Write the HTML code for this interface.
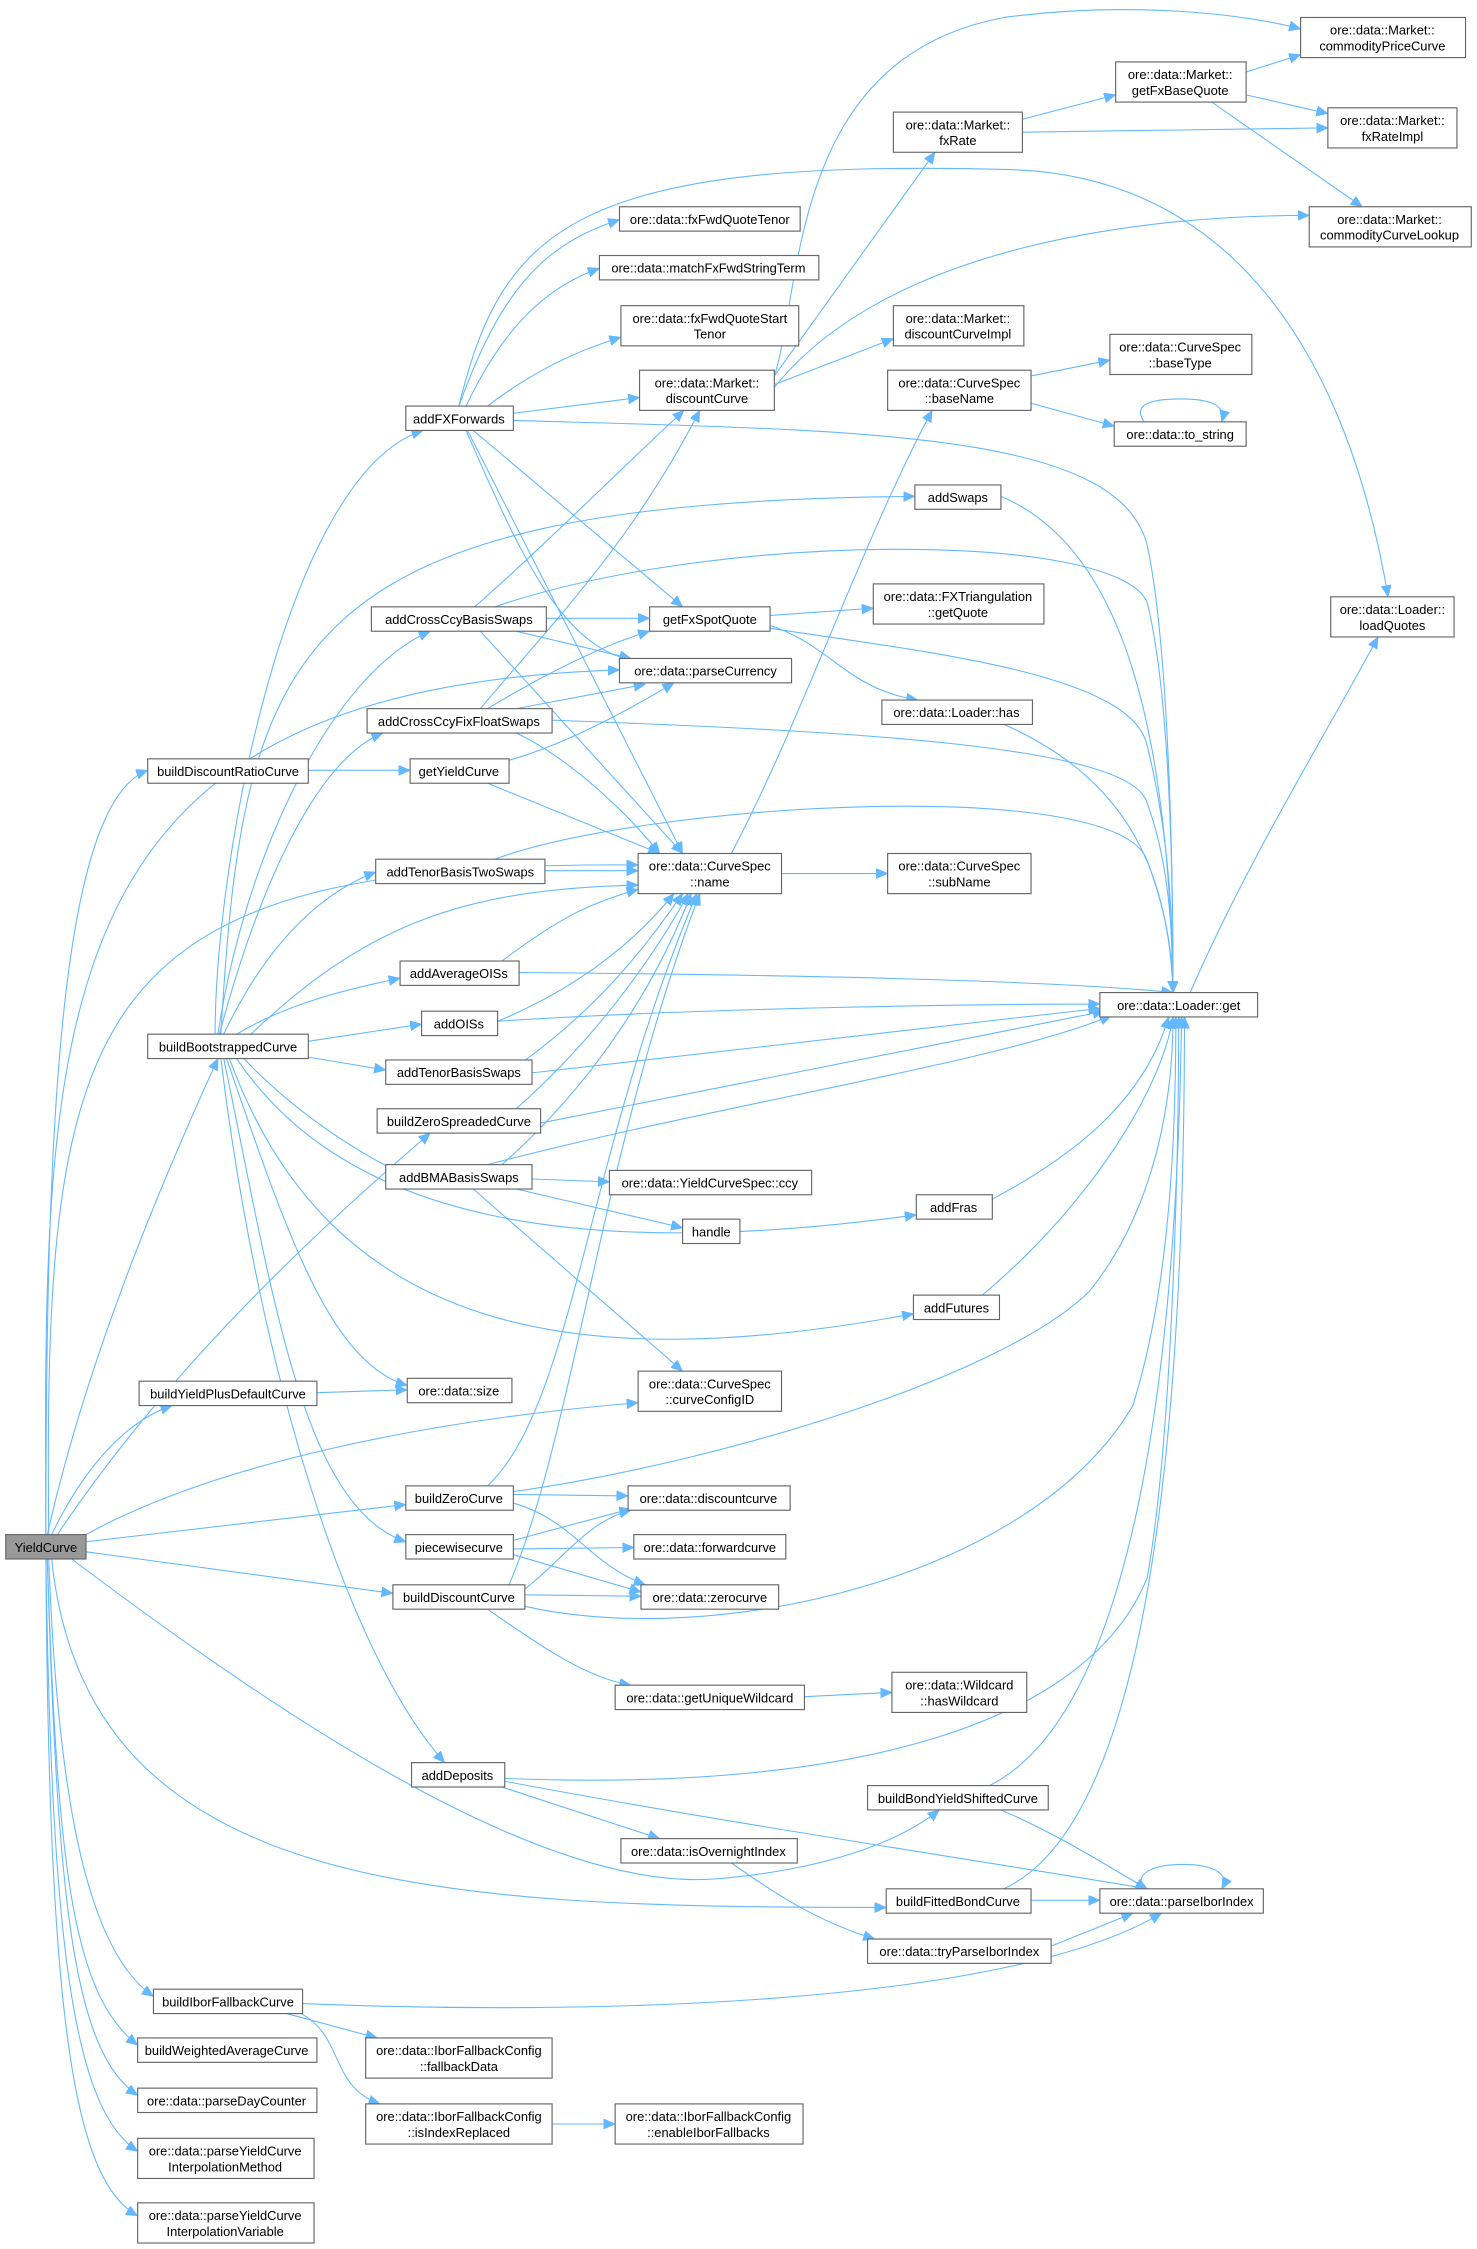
<!DOCTYPE html>
<html><head><meta charset="utf-8"><style>
html,body{margin:0;padding:0;background:#fff;}
svg{display:block;}
text{font-family:"Liberation Sans",sans-serif;font-size:9px;fill:#000;text-anchor:middle;}
.n rect{fill:#fff;stroke:#666;stroke-width:0.8;}
.e{fill:none;stroke:#63b8ff;stroke-width:0.75;marker-end:url(#a);}
</style></head><body>
<svg width="1477" height="2249" viewBox="0 0 1030 1568" xmlns="http://www.w3.org/2000/svg">
<defs><marker id="a" markerUnits="userSpaceOnUse" markerWidth="9" markerHeight="8" refX="8" refY="3.5" orient="auto"><path d="M0,0 L8,3.5 L0,7 z" fill="#63b8ff" stroke="#63b8ff" stroke-width="0.5"/></marker></defs>

<!-- edges from YieldCurve -->
<path class="e" d="M32,1070 C32,800 40,560 103,537"/>
<path class="e" d="M33,1070 C60,950 110,830 152,738"/>
<path class="e" d="M36,1070 C60,1020 90,990 120,980"/>
<path class="e" d="M40,1070 C120,950 230,850 300,790"/>
<path class="e" d="M32,1070 C30,700 30,480 432,467"/>
<path class="e" d="M34,1070 C30,700 60,600 445,603"/>
<path class="e" d="M60,1070 C150,1020 300,990 445,978"/>
<path class="e" d="M60,1075 L283,1049"/>
<path class="e" d="M60,1082 L274,1111"/>
<path class="e" d="M50,1087 C200,1200 380,1320 500,1310 C560,1305 620,1290 655,1262"/>
<path class="e" d="M36,1087 C60,1320 300,1330 618,1330"/>
<path class="e" d="M34,1087 C40,1250 60,1360 107,1392"/>
<path class="e" d="M33,1087 C40,1300 50,1390 96,1426"/>
<path class="e" d="M33,1087 C40,1320 50,1430 96,1461"/>
<path class="e" d="M32,1087 C36,1350 50,1470 96,1500"/>
<path class="e" d="M32,1087 C34,1400 50,1520 96,1545"/>

<!-- buildBootstrappedCurve -->
<path class="e" d="M150,721 C150,600 200,330 295,300"/>
<path class="e" d="M152,721 C170,600 230,470 300,440"/>
<path class="e" d="M153,721 C180,620 220,530 267,511"/>
<path class="e" d="M154,721 C170,450 200,350 638,346"/>
<path class="e" d="M156,721 C190,650 230,620 262,608"/>
<path class="e" d="M165,721 C200,700 240,690 279,682"/>
<path class="e" d="M215,726 L294,714"/>
<path class="e" d="M215,737 L269,746"/>
<path class="e" d="M170,738 C210,780 260,810 285,820"/>
<path class="e" d="M165,738 C240,850 400,880 639,847"/>
<path class="e" d="M160,738 C230,930 400,960 637,916"/>
<path class="e" d="M158,738 C200,860 230,950 284,966"/>
<path class="e" d="M156,738 C190,900 210,1050 283,1075"/>
<path class="e" d="M154,738 C180,950 240,1150 310,1229"/>
<path class="e" d="M175,721 C260,640 330,620 445,617"/>

<!-- addFXForwards -->
<path class="e" d="M320,283 C350,200 380,170 432,153"/>
<path class="e" d="M325,283 C350,230 380,200 418,187"/>
<path class="e" d="M340,283 C370,260 400,245 433,235"/>
<path class="e" d="M358,288 L446,277"/>
<path class="e" d="M330,300 L476,423"/>
<path class="e" d="M325,300 C360,380 390,450 440,460"/>
<path class="e" d="M326,300 L476,595"/>
<path class="e" d="M358,293 C600,300 780,300 800,380 C815,450 818,600 818,692"/>
<path class="e" d="M320,283 C350,160 400,110 700,118 C860,120 940,250 968,416"/>

<!-- discountCurve -->
<path class="e" d="M540,262 C560,200 550,40 700,12 C790,0 870,10 907,20"/>
<path class="e" d="M540,262 L652,106"/>
<path class="e" d="M540,268 L623,236"/>
<path class="e" d="M540,270 C620,170 800,150 913,150"/>
<path class="e" d="M713,83 L778,66"/>
<path class="e" d="M713,92 L926,89"/>
<path class="e" d="M869,50 L907,38"/>
<path class="e" d="M869,66 L926,79"/>
<path class="e" d="M845,71 L950,144"/>
<path class="e" d="M719,262 L774,251"/>
<path class="e" d="M719,281 L777,297"/>
<path class="e" d="M798,294 C790,283 800,278 823,278 C846,278 855,283 852,294"/>

<!-- addCrossCcyBasisSwaps -->
<path class="e" d="M331,423 C380,380 440,320 477,286"/>
<path class="e" d="M381,431 L453,431"/>
<path class="e" d="M360,440 L440,459"/>
<path class="e" d="M335,440 L476,595"/>
<path class="e" d="M345,423 C500,370 780,370 800,420 C815,480 818,600 818,692"/>
<!-- addCrossCcyFixFloatSwaps -->
<path class="e" d="M335,494 C380,440 440,380 488,286"/>
<path class="e" d="M340,494 C380,470 420,450 453,440"/>
<path class="e" d="M360,494 L450,477"/>
<path class="e" d="M360,511 C400,530 440,570 460,595"/>
<path class="e" d="M385,502 C600,510 790,520 800,560 C815,600 818,650 818,692"/>
<!-- getFxSpotQuote -->
<path class="e" d="M537,429 L609,424"/>
<path class="e" d="M537,436 C580,450 590,480 640,488"/>
<path class="e" d="M537,438 C650,455 790,470 800,520 C815,580 818,640 818,692"/>
<path class="e" d="M700,505 C780,540 815,600 818,692"/>
<!-- getYieldCurve -->
<path class="e" d="M355,530 C390,520 430,500 470,476"/>
<path class="e" d="M340,546 L460,595"/>
<path class="e" d="M215,537 L286,537"/>
<!-- addTenorBasisTwoSwaps -->
<path class="e" d="M380,607 L445,607"/>
<path class="e" d="M345,599 C450,560 780,540 800,600 C815,640 818,670 818,692"/>
<!-- CurveSpec::name -->
<path class="e" d="M545,609 L619,609"/>
<path class="e" d="M510,595 C560,500 600,380 650,286"/>
<!-- other to name / get -->
<path class="e" d="M350,670 C390,640 410,630 445,620"/>
<path class="e" d="M362,678 C600,680 750,685 818,692"/>
<path class="e" d="M347,712 C400,690 440,660 470,623"/>
<path class="e" d="M347,712 C500,702 700,700 767,700"/>
<path class="e" d="M365,740 C420,700 450,660 476,623"/>
<path class="e" d="M371,748 L767,703"/>
<path class="e" d="M360,773 C420,720 460,660 480,623"/>
<path class="e" d="M377,783 L770,705"/>
<path class="e" d="M350,812 C420,750 460,680 482,623"/>
<path class="e" d="M340,812 C500,770 700,740 775,708"/>
<path class="e" d="M371,822 L425,824"/>
<path class="e" d="M360,829 L476,856"/>
<path class="e" d="M330,829 L476,956"/>
<path class="e" d="M698,346 C780,380 815,500 818,692"/>
<path class="e" d="M692,836 C760,800 800,760 815,709"/>
<path class="e" d="M685,903 C760,840 810,760 818,709"/>
<!-- sizes etc -->
<path class="e" d="M221,971 L284,969"/>
<path class="e" d="M340,1036 C400,980 410,800 486,623"/>
<path class="e" d="M358,1042 L438,1043"/>
<path class="e" d="M358,1048 C400,1060 410,1090 450,1105"/>
<path class="e" d="M358,1040 C500,1020 700,960 760,900 C800,850 818,780 818,709"/>
<path class="e" d="M358,1074 L440,1052"/>
<path class="e" d="M358,1080 L442,1079"/>
<path class="e" d="M358,1084 L447,1110"/>
<path class="e" d="M355,1105 C400,1000 420,800 488,623"/>
<path class="e" d="M366,1108 C390,1090 410,1060 440,1053"/>
<path class="e" d="M366,1112 L447,1113"/>
<path class="e" d="M340,1122 C380,1150 410,1170 440,1175"/>
<path class="e" d="M366,1120 C500,1150 720,1100 790,980 C815,900 820,800 820,709"/>
<path class="e" d="M561,1183 L622,1180"/>
<path class="e" d="M352,1240 C600,1250 760,1200 800,1100 C818,1000 822,800 822,709"/>
<path class="e" d="M350,1246 L460,1282"/>
<path class="e" d="M352,1242 C500,1270 700,1300 800,1317"/>
<path class="e" d="M510,1299 C540,1320 570,1340 610,1352"/>
<path class="e" d="M690,1245 C780,1200 820,1000 824,709"/>
<path class="e" d="M698,1262 C740,1280 770,1300 800,1317"/>
<path class="e" d="M700,1317 C780,1280 826,1100 826,709"/>
<path class="e" d="M719,1325 L767,1325"/>
<path class="e" d="M733,1357 L790,1334"/>
<path class="e" d="M798,1317 C790,1306 805,1300 825,1300 C845,1300 858,1306 852,1317"/>
<path class="e" d="M830,692 C870,600 920,520 961,444"/>
<!-- ibor fallback -->
<path class="e" d="M211,1397 C400,1405 700,1400 810,1334"/>
<path class="e" d="M200,1404 L263,1421"/>
<path class="e" d="M210,1404 C240,1420 230,1455 265,1467"/>
<path class="e" d="M385,1481 L429,1481"/>

<!-- nodes -->
<g class="n">
<rect x="4" y="1070" width="56" height="17" style="fill:#999"/><text x="32" y="1082">YieldCurve</text>
<rect x="103" y="529" width="112" height="17"/><text x="159" y="541">buildDiscountRatioCurve</text>
<rect x="103" y="721" width="112" height="17"/><text x="159" y="733">buildBootstrappedCurve</text>
<rect x="97" y="963" width="124" height="17"/><text x="159" y="975">buildYieldPlusDefaultCurve</text>
<rect x="107" y="1387" width="104" height="17"/><text x="159" y="1399">buildIborFallbackCurve</text>
<rect x="96" y="1421" width="125" height="17"/><text x="158" y="1433">buildWeightedAverageCurve</text>
<rect x="96" y="1456" width="125" height="17"/><text x="158" y="1468">ore::data::parseDayCounter</text>
<rect x="96" y="1491" width="123" height="28"/><text x="157" y="1503">ore::data::parseYieldCurve</text><text x="157" y="1514">InterpolationMethod</text>
<rect x="96" y="1536" width="123" height="28"/><text x="157" y="1548">ore::data::parseYieldCurve</text><text x="157" y="1559">InterpolationVariable</text>

<rect x="283" y="283" width="75" height="17"/><text x="320" y="295">addFXForwards</text>
<rect x="259" y="423" width="122" height="17"/><text x="320" y="435">addCrossCcyBasisSwaps</text>
<rect x="256" y="494" width="129" height="17"/><text x="320" y="506">addCrossCcyFixFloatSwaps</text>
<rect x="286" y="529" width="69" height="17"/><text x="320" y="541">getYieldCurve</text>
<rect x="262" y="599" width="118" height="17"/><text x="321" y="611">addTenorBasisTwoSwaps</text>
<rect x="279" y="670" width="83" height="17"/><text x="320" y="682">addAverageOISs</text>
<rect x="294" y="705" width="53" height="17"/><text x="320" y="717">addOISs</text>
<rect x="269" y="739" width="102" height="17"/><text x="320" y="751">addTenorBasisSwaps</text>
<rect x="263" y="773" width="114" height="17"/><text x="320" y="785">buildZeroSpreadedCurve</text>
<rect x="269" y="812" width="102" height="17"/><text x="320" y="824">addBMABasisSwaps</text>
<rect x="284" y="961" width="73" height="17"/><text x="320" y="973">ore::data::size</text>
<rect x="283" y="1036" width="75" height="17"/><text x="320" y="1048">buildZeroCurve</text>
<rect x="283" y="1070" width="75" height="17"/><text x="320" y="1082">piecewisecurve</text>
<rect x="274" y="1105" width="92" height="17"/><text x="320" y="1117">buildDiscountCurve</text>
<rect x="287" y="1229" width="65" height="17"/><text x="319" y="1241">addDeposits</text>

<rect x="432" y="144" width="126" height="17"/><text x="495" y="156">ore::data::fxFwdQuoteTenor</text>
<rect x="418" y="178" width="153" height="17"/><text x="494" y="190">ore::data::matchFxFwdStringTerm</text>
<rect x="433" y="213" width="124" height="28"/><text x="495" y="225">ore::data::fxFwdQuoteStart</text><text x="495" y="236">Tenor</text>
<rect x="446" y="258" width="94" height="28"/><text x="493" y="270">ore::data::Market::</text><text x="493" y="281">discountCurve</text>
<rect x="453" y="423" width="84" height="17"/><text x="495" y="435">getFxSpotQuote</text>
<rect x="432" y="459" width="120" height="17"/><text x="492" y="471">ore::data::parseCurrency</text>
<rect x="445" y="595" width="100" height="28"/><text x="495" y="607">ore::data::CurveSpec</text><text x="495" y="618">::name</text>
<rect x="425" y="816" width="141" height="17"/><text x="495" y="828">ore::data::YieldCurveSpec::ccy</text>
<rect x="476" y="850" width="40" height="17"/><text x="496" y="862">handle</text>
<rect x="445" y="956" width="100" height="28"/><text x="495" y="968">ore::data::CurveSpec</text><text x="495" y="979">::curveConfigID</text>
<rect x="438" y="1036" width="113" height="17"/><text x="494" y="1048">ore::data::discountcurve</text>
<rect x="442" y="1070" width="106" height="17"/><text x="495" y="1082">ore::data::forwardcurve</text>
<rect x="447" y="1105" width="96" height="17"/><text x="495" y="1117">ore::data::zerocurve</text>
<rect x="429" y="1175" width="132" height="17"/><text x="495" y="1187">ore::data::getUniqueWildcard</text>
<rect x="433" y="1282" width="123" height="17"/><text x="494" y="1294">ore::data::isOvernightIndex</text>

<rect x="623" y="78" width="90" height="28"/><text x="668" y="90">ore::data::Market::</text><text x="668" y="101">fxRate</text>
<rect x="623" y="213" width="91" height="28"/><text x="668" y="225">ore::data::Market::</text><text x="668" y="236">discountCurveImpl</text>
<rect x="619" y="258" width="100" height="28"/><text x="669" y="270">ore::data::CurveSpec</text><text x="669" y="281">::baseName</text>
<rect x="638" y="338" width="60" height="17"/><text x="668" y="350">addSwaps</text>
<rect x="609" y="407" width="119" height="28"/><text x="668" y="419">ore::data::FXTriangulation</text><text x="668" y="430">::getQuote</text>
<rect x="615" y="488" width="105" height="17"/><text x="667" y="500">ore::data::Loader::has</text>
<rect x="619" y="595" width="100" height="28"/><text x="669" y="607">ore::data::CurveSpec</text><text x="669" y="618">::subName</text>
<rect x="639" y="833" width="53" height="17"/><text x="665" y="845">addFras</text>
<rect x="637" y="903" width="60" height="17"/><text x="667" y="915">addFutures</text>
<rect x="622" y="1166" width="94" height="28"/><text x="669" y="1178">ore::data::Wildcard</text><text x="669" y="1189">::hasWildcard</text>
<rect x="605" y="1245" width="126" height="17"/><text x="668" y="1257">buildBondYieldShiftedCurve</text>
<rect x="618" y="1317" width="101" height="17"/><text x="668" y="1329">buildFittedBondCurve</text>
<rect x="605" y="1352" width="128" height="17"/><text x="669" y="1364">ore::data::tryParseIborIndex</text>

<rect x="778" y="43" width="91" height="28"/><text x="823" y="55">ore::data::Market::</text><text x="823" y="66">getFxBaseQuote</text>
<rect x="774" y="233" width="99" height="28"/><text x="823" y="245">ore::data::CurveSpec</text><text x="823" y="256">::baseType</text>
<rect x="777" y="294" width="92" height="17"/><text x="823" y="306">ore::data::to_string</text>
<rect x="767" y="692" width="110" height="17"/><text x="822" y="704">ore::data::Loader::get</text>
<rect x="767" y="1317" width="114" height="17"/><text x="824" y="1329">ore::data::parseIborIndex</text>

<rect x="907" y="12" width="115" height="28"/><text x="964" y="24">ore::data::Market::</text><text x="964" y="35">commodityPriceCurve</text>
<rect x="926" y="75" width="90" height="28"/><text x="971" y="87">ore::data::Market::</text><text x="971" y="98">fxRateImpl</text>
<rect x="913" y="144" width="113" height="28"/><text x="969" y="156">ore::data::Market::</text><text x="969" y="167">commodityCurveLookup</text>
<rect x="928" y="416" width="86" height="28"/><text x="971" y="428">ore::data::Loader::</text><text x="971" y="439">loadQuotes</text>

<rect x="255" y="1421" width="130" height="28"/><text x="320" y="1433">ore::data::IborFallbackConfig</text><text x="320" y="1444">::fallbackData</text>
<rect x="255" y="1467" width="130" height="28"/><text x="320" y="1479">ore::data::IborFallbackConfig</text><text x="320" y="1490">::isIndexReplaced</text>
<rect x="429" y="1467" width="131" height="28"/><text x="494" y="1479">ore::data::IborFallbackConfig</text><text x="494" y="1490">::enableIborFallbacks</text>
</g>
</svg>
</body></html>
